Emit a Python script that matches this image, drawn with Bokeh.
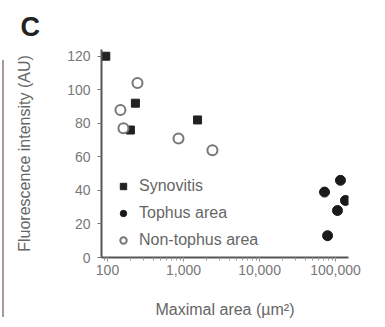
from bokeh.plotting import figure
from bokeh.models import NumeralTickFormatter, FixedTicker, Range1d, Legend, LegendItem, Div
from bokeh.layouts import row
from bokeh.embed import file_html
from bokeh.resources import INLINE

# Data
synovitis_x = [95, 233, 1530, 200]
synovitis_y = [120, 92, 82, 76]
tophus_x = [116000, 71600, 135000, 106000, 78500]
tophus_y = [46, 39, 34, 28, 13]
nontophus_x = [248, 148, 162, 859, 2400]
nontophus_y = [104, 88, 77, 71, 64]
y_ticks = [0, 20, 40, 60, 80, 100, 120]
x_ticks = [100, 1000, 10000, 100000]

FONT = "Liberation Sans"
DIV_W = 6
p = figure(width=385 - DIV_W, height=327, x_axis_type="log", output_backend="svg",
           toolbar_location=None, x_range=Range1d(83.4, 148000), y_range=Range1d(0, 124),
           min_border_left=101 - DIV_W, min_border_right=37, min_border_top=49,
           min_border_bottom=70, margin=0)
p.grid.visible = False
p.outline_line_color = None

p.title.text = "C"
p.title.text_font = FONT
p.title.text_font_size = "27px"
p.title.text_font_style = "bold"
p.title.text_color = "#222222"
p.title.align = "left"
p.title.offset = -81
p.title.standoff = 16

r1 = p.scatter(synovitis_x, synovitis_y, marker="square", size=8, color="#222222")
r2 = p.scatter(tophus_x, tophus_y, marker="circle", size=10, color="#1a1a1a")
r3 = p.scatter(nontophus_x, nontophus_y, marker="circle", size=10, fill_color="white",
               line_color="#777777", line_width=2)

for ax in (p.xaxis[0], p.yaxis[0]):
    ax.axis_line_color = "#555555"
    ax.axis_line_width = 2
    ax.major_tick_line_color = "#777777"
    ax.minor_tick_line_color = "#999999"
    ax.major_label_text_font = FONT
    ax.major_label_text_font_size = "14px"
    ax.major_label_text_color = "#777777"
    ax.axis_label_text_font = FONT
    ax.axis_label_text_font_size = "16px"
    ax.axis_label_text_color = "#666666"
    ax.axis_label_text_font_style = "normal"

p.yaxis.ticker = FixedTicker(ticks=y_ticks)
p.yaxis.major_tick_out = 4
p.yaxis.major_tick_in = 0
p.yaxis.major_label_standoff = 7
p.yaxis.axis_label = "Fluorescence intensity (AU)"
p.yaxis.axis_label_standoff = 31

p.xaxis.ticker.desired_num_ticks = 4
p.xaxis.formatter = NumeralTickFormatter(format="0,0")
p.xaxis.major_tick_out = 4
p.xaxis.major_tick_in = 0
p.xaxis.minor_tick_out = 3
p.xaxis.major_label_standoff = 3
p.xaxis.axis_label = "Maximal area (µm²)"
p.xaxis.axis_label_standoff = 23

legend = Legend(items=[LegendItem(label="Synovitis", renderers=[r1]),
                       LegendItem(label="Tophus area", renderers=[r2]),
                       LegendItem(label="Non-tophus area", renderers=[r3])],
                location=(14, 7), label_text_font=FONT, label_text_font_size="16px",
                label_text_color="#666666", glyph_width=16, glyph_height=20,
                label_height=20, spacing=7, padding=0, margin=0, label_standoff=8,
                border_line_color=None, background_fill_alpha=0)
p.add_layout(legend)

edge = Div(width=DIV_W, height=327, margin=0,
           text='<div style="position:absolute;left:2px;top:60px;width:2px;height:257px;'
                'background:#a89a9a;"></div>')

layout = row(edge, p, spacing=0, margin=0)
open("out.html", "w").write(file_html(layout, INLINE))
